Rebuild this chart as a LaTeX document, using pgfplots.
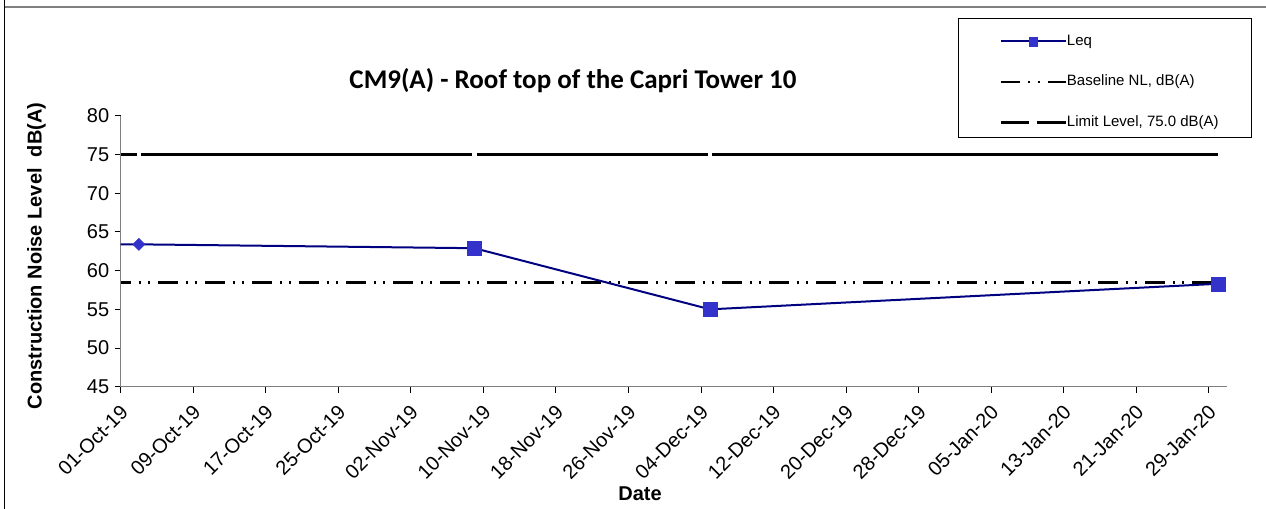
\documentclass[border=0pt]{standalone}
\usepackage{pgfplots}
\pgfplotsset{compat=1.18}
\usepackage{fontspec}
\setmainfont{Liberation Sans}
\newfontfamily\titlefont{Carlito}
\definecolor{leqline}{RGB}{0,0,128}
\definecolor{leqmark}{RGB}{51,51,204}
\definecolor{axgray}{RGB}{128,128,128}
\begin{document}
\begin{tikzpicture}
\path[use as bounding box] (0,0) rectangle (633pt,254.5pt);
\draw[axgray, line width=1pt] (2.15pt,250.85pt) -- (633pt,250.85pt);
\draw[black, line width=0.6pt] (2.15pt,0pt) -- (2.15pt,254.5pt);
\begin{axis}[
  at={(60.35pt,61.15pt)}, anchor=south west,
  scale only axis, width=553.15pt, height=135.4pt,
  xmin=0, xmax=122, ymin=45, ymax=80,
  axis x line*=bottom, axis y line*=left,
  axis line style={axgray, line width=0.6pt, -},
  tick align=outside, major tick length=3pt,
  tick style={black, line width=0.5pt},
  xtick={0,8,...,120},
  xticklabels={01-Oct-19,09-Oct-19,17-Oct-19,25-Oct-19,02-Nov-19,10-Nov-19,18-Nov-19,26-Nov-19,04-Dec-19,12-Dec-19,20-Dec-19,28-Dec-19,05-Jan-20,13-Jan-20,21-Jan-20,29-Jan-20},
  ytick={45,50,...,80},
  /pgf/number format/assume math mode=true,
  ticklabel style={font=\fontsize{10}{12}\selectfont},
  yticklabel style={xshift=0.8pt},
  xticklabel style={rotate=45, anchor=north east, xshift=-1pt},
  legend style={at={(0.7939,1.3024)}, anchor=north west, draw=none, fill=none,
    inner sep=0pt, row sep=13.2pt,
    font=\fontsize{7.5}{9}\selectfont,
    nodes={inner sep=0pt, text height=5.5pt, text depth=1.5pt},
    /tikz/every even column/.append style={column sep=2pt}},
  legend cell align=left,
  reverse legend,
]
\addplot[black, line width=1.3pt,
  dash pattern=on 7.97pt off 2.2pt on 165.56pt off 2.2pt on 115.68pt off 2.2pt on 400pt off 1pt,
  legend image code/.code={\draw[black, line width=1.3pt, dash pattern=on 14pt off 4pt on 20pt off 1pt] (0pt,0pt) -- (32.5pt,0pt);}]
  coordinates {(0,75) (121,75)};
\addlegendentry{Limit Level, 75.0 dB(A)}
\addplot[black, line width=1.3pt,
  dash pattern=on 9.6pt off 4pt on 1pt off 3.9pt on 1pt off 4pt, dash phase=4.7pt,
  legend image code/.code={\draw[black, line width=1.3pt, dash pattern=on 9.6pt off 4pt on 1pt off 3.9pt on 1pt off 4pt, dash phase=0pt] (0pt,0pt) -- (32.5pt,0pt);}]
  coordinates {(0,58.5) (121,58.5)};
\addlegendentry{Baseline NL, dB(A)}
\addplot[leqline, line width=1pt,
  legend image code/.code={\draw[leqline, line width=1pt, mark=square*, mark size=2.2pt,
      mark options={draw=leqmark, fill=leqmark, line width=0.2pt}, mark repeat=2, mark phase=2]
      plot coordinates {(0pt,0pt) (16.25pt,0pt) (32.5pt,0pt)};}]
  coordinates {(0,63.4) (2,63.4) (39,62.9) (65,55.0) (121,58.3)};
\addlegendentry{Leq}
\addplot[forget plot, only marks, mark=square*, mark size=3.5pt,
  mark options={draw=leqmark, fill=leqmark, line width=0.2pt}]
  coordinates {(39,62.9) (65,55.0) (121,58.3)};
\addplot[forget plot, only marks, mark=square*, mark size=2.15pt,
  mark options={rotate=45, draw=leqmark, fill=leqmark, line width=0.2pt}]
  coordinates {(2,63.4)};
\end{axis}
\node[rotate=90, font=\bfseries\fontsize{10}{12}\selectfont] at (18.25pt,126.5pt) {Construction Noise Level\ \ dB(A)};
\node[font=\titlefont\bfseries\fontsize{13.5}{16}\selectfont, anchor=base] at (286.5pt,210.25pt) {CM9(A) - Roof top of the Capri Tower 10};
\node[font=\bfseries\fontsize{10}{12}\selectfont] at (320pt,7.5pt) {Date};
\draw[black, line width=0.5pt] (479pt,245pt) rectangle (625.85pt,185.85pt);
\end{tikzpicture}
\end{document}
